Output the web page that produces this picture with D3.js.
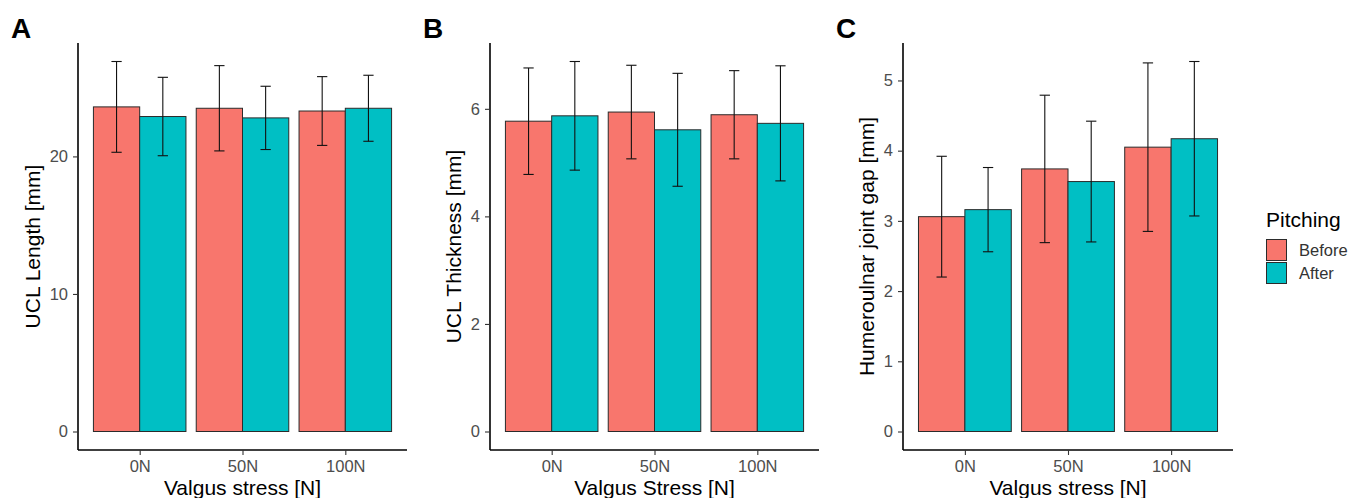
<!DOCTYPE html>
<html>
<head>
<meta charset="utf-8">
<script src="https://cdn.jsdelivr.net/npm/d3@7/dist/d3.min.js"></script>
<style>
  html, body { margin: 0; padding: 0; background: #fff; }
  svg { display: block; font-family: "Liberation Sans", Arial, sans-serif; }
</style>
</head>
<body>
<svg id="chart" width="1351" height="498"></svg>
<script>
// stress levels and groups
const categories = ["0N", "50N", "100N"];
const groups = ["Before", "After"];
const colors = ["#F8766D", "#00BFC4"];

// A: UCL length (mean, sd)
const lengthBefore = [23.6, 23.5, 23.3];
const lengthBeforeSd = [3.3, 3.1, 2.5];
const lengthAfter = [22.9, 22.8, 23.5];
const lengthAfterSd = [2.85, 2.3, 2.4];

// B: UCL thickness
const thickBefore = [5.77, 5.94, 5.89];
const thickBeforeSd = [0.99, 0.87, 0.82];
const thickAfter = [5.87, 5.61, 5.73];
const thickAfterSd = [1.01, 1.05, 1.07];

// C: humeroulnar joint gap
const gapBefore = [3.06, 3.74, 4.05];
const gapBeforeSd = [0.86, 1.05, 1.2];
const gapAfter = [3.16, 3.56, 4.17];
const gapAfterSd = [0.6, 0.86, 1.1];

const ticksA = [0, 10, 20];
const ticksB = [0, 2, 4, 6];
const ticksC = [0, 1, 2, 3, 4, 5];

const panels = [
  { tag: "A", left: 78, right: 407, ylab: "UCL Length [mm]", xlab: "Valgus stress [N]",
    means: [lengthBefore, lengthAfter], sds: [lengthBeforeSd, lengthAfterSd], ticks: ticksA },
  { tag: "B", left: 490, right: 819, ylab: "UCL Thickness [mm]", xlab: "Valgus Stress [N]",
    means: [thickBefore, thickAfter], sds: [thickBeforeSd, thickAfterSd], ticks: ticksB },
  { tag: "C", left: 903, right: 1233, ylab: "Humeroulnar joint gap [mm]", xlab: "Valgus stress [N]",
    means: [gapBefore, gapAfter], sds: [gapBeforeSd, gapAfterSd], ticks: ticksC }
];

const plotTop = 43, plotBottom = 450;
const svg = d3.select("#chart");

panels.forEach(p => {
  const g = svg.append("g");

  // rows: one per bar
  const rows = [];
  categories.forEach((c, ci) => {
    groups.forEach((grp, gi) => {
      rows.push({ cat: c, gi: gi, mean: p.means[gi][ci], sd: p.sds[gi][ci] });
    });
  });

  const maxV = d3.max(rows, d => d.mean + d.sd);
  const y = d3.scaleLinear()
    .domain([-0.05 * maxV, 1.05 * maxV])
    .range([plotBottom, plotTop]);

  const x = d3.scalePoint()
    .domain(categories)
    .range([p.left, p.right])
    .padding(0.6);

  const dodge = x.step() * 0.9;
  const barW = dodge / 2;

  // bars
  g.selectAll("rect.bar")
    .data(rows)
    .enter()
    .append("rect")
    .attr("class", "bar")
    .attr("x", d => x(d.cat) - dodge / 2 + d.gi * barW)
    .attr("y", d => y(d.mean))
    .attr("width", barW)
    .attr("height", d => y(0) - y(d.mean))
    .attr("fill", d => colors[d.gi])
    .attr("stroke", "#2b2b2b")
    .attr("stroke-width", 1);

  // error bars
  const capW = x.step() * 0.1;
  const eb = g.selectAll("g.err")
    .data(rows)
    .enter()
    .append("g")
    .attr("class", "err")
    .attr("stroke", "#111")
    .attr("stroke-width", 1.1);
  const cx = d => x(d.cat) - dodge / 2 + d.gi * barW + barW / 2;
  eb.append("line")
    .attr("x1", cx).attr("x2", cx)
    .attr("y1", d => y(d.mean + d.sd)).attr("y2", d => y(d.mean - d.sd));
  eb.append("line")
    .attr("x1", d => cx(d) - capW / 2).attr("x2", d => cx(d) + capW / 2)
    .attr("y1", d => y(d.mean + d.sd)).attr("y2", d => y(d.mean + d.sd));
  eb.append("line")
    .attr("x1", d => cx(d) - capW / 2).attr("x2", d => cx(d) + capW / 2)
    .attr("y1", d => y(d.mean - d.sd)).attr("y2", d => y(d.mean - d.sd));

  // y axis
  const yAxis = g.append("g")
    .attr("transform", `translate(${p.left},0)`)
    .call(d3.axisLeft(y).tickValues(p.ticks).tickSize(5).tickPadding(5).tickFormat(d3.format("d")));
  yAxis.select(".domain").attr("stroke", "#000").attr("stroke-width", 1.6)
    .attr("d", `M0,${plotTop}V${plotBottom}`);
  yAxis.selectAll(".tick line").attr("stroke", "#333").attr("stroke-width", 1.1);
  yAxis.selectAll(".tick text").attr("fill", "#4d4d4d").style("font-size", "16.5px");

  // x axis
  const xAxis = g.append("g")
    .attr("transform", `translate(0,${plotBottom})`)
    .call(d3.axisBottom(x).tickSize(5).tickPadding(5));
  xAxis.select(".domain").attr("stroke", "#000").attr("stroke-width", 1.6)
    .attr("d", `M${p.left},0H${p.right}`);
  xAxis.selectAll(".tick line").attr("stroke", "#333").attr("stroke-width", 1.1);
  xAxis.selectAll(".tick text").attr("fill", "#4d4d4d").style("font-size", "16.5px");

  // y title placed left of the widest tick label
  let minLeft = p.left;
  yAxis.selectAll(".tick text").each(function () {
    const b = this.getBBox();
    const ctm = this.getCTM();
    minLeft = Math.min(minLeft, b.x + ctm.e);
  });
  g.append("text")
    .attr("transform", `translate(${minLeft - 9.5},${(plotTop + plotBottom) / 2}) rotate(-90)`)
    .attr("text-anchor", "middle")
    .attr("fill", "#000")
    .style("font-size", "21px")
    .text(p.ylab);

  // x title
  g.append("text")
    .attr("x", (p.left + p.right) / 2)
    .attr("y", 495)
    .attr("text-anchor", "middle")
    .attr("fill", "#000")
    .style("font-size", "21px")
    .text(p.xlab);

  // panel tag
  g.append("text")
    .attr("x", p.left - 67)
    .attr("y", 38)
    .attr("fill", "#000")
    .style("font-size", "28px")
    .style("font-weight", "bold")
    .text(p.tag);
});

// legend
const legend = svg.append("g").attr("transform", "translate(1266,0)");
legend.append("text")
  .attr("x", 0).attr("y", 227)
  .style("font-size", "21px")
  .attr("fill", "#000")
  .text("Pitching");
const items = legend.selectAll("g.item")
  .data(groups)
  .enter()
  .append("g")
  .attr("class", "item")
  .attr("transform", (d, i) => `translate(0,${239 + i * 23})`);
items.append("rect")
  .attr("x", 0.5).attr("y", 0.5)
  .attr("width", 20).attr("height", 21)
  .attr("fill", (d, i) => colors[i])
  .attr("stroke", "#2b2b2b")
  .attr("stroke-width", 1);
items.append("text")
  .attr("x", 33).attr("y", 17)
  .style("font-size", "16.5px")
  .attr("fill", "#333")
  .text(d => d);
</script>
</body>
</html>
